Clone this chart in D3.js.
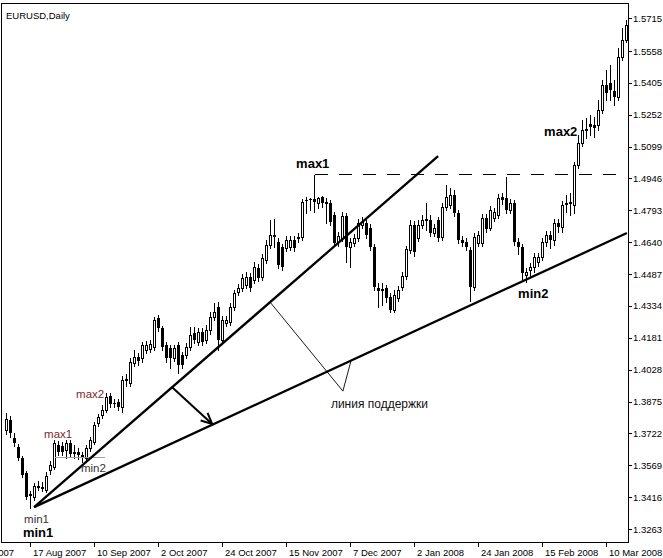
<!DOCTYPE html>
<html><head><meta charset="utf-8">
<script src="https://cdn.jsdelivr.net/npm/d3@7"></script>
<style>
html,body{margin:0;padding:0;background:#fff;}
svg{display:block;}
text{font-family:"Liberation Sans",Arial,sans-serif;}
</style></head><body>
<svg id="c" width="663" height="558"></svg>
<script>
// EURUSD daily bars (one per trading day)
const openP = [
1.3738,1.3786,1.3700,1.3656,1.3604,1.3532,1.3431,1.3416,1.3464,1.3464,
1.3450,1.3546,1.3560,1.3666,1.3661,1.3642,1.3676,1.3632,1.3632,1.3618,
1.3604,1.3652,1.3680,1.3772,1.3810,1.3834,1.3901,1.3868,1.3872,1.3848,
1.3978,1.3964,1.4060,1.4088,1.4084,1.4122,1.4127,1.4136,1.4276,1.4228,
1.4146,1.4132,1.4084,1.4146,1.4098,1.4098,1.4136,1.4204,1.4160,1.4208,
1.4170,1.4218,1.4280,1.4328,1.4170,1.4252,1.4256,1.4328,1.4400,1.4420,
1.4434,1.4472,1.4458,1.4516,1.4472,1.4554,1.4626,1.4669,1.4640,1.4616,
1.4612,1.4616,1.4650,1.4660,1.4664,1.4842,1.4847,1.4847,1.4828,1.4856,
1.4832,1.4828,1.4770,1.4640,1.4660,1.4765,1.4616,1.4636,1.4660,1.4722,
1.4732,1.4708,1.4616,1.4420,1.4410,1.4420,1.4376,1.4314,1.4372,1.4424,
1.4477,1.4602,1.4722,1.4660,1.4722,1.4746,1.4746,1.4684,1.4746,1.4664,
1.4808,1.4818,1.4866,1.4780,1.4650,1.4640,1.4602,1.4424,1.4636,1.4636,
1.4756,1.4708,1.4756,1.4770,1.4856,1.4852,1.4794,1.4828,1.4640,1.4616,
1.4482,1.4506,1.4520,1.4544,1.4568,1.4640,1.4674,1.4650,1.4732,1.4712,
1.4823,1.4828,1.4818,1.5010,1.5116,1.5178,1.5206,1.5202,1.5202,1.5274,
1.5394,1.5404,1.5365,1.5336,1.5528,1.5610];
const highP = [
1.3820,1.3805,1.3724,1.3671,1.3613,1.3541,1.3445,1.3484,1.3493,1.3488,
1.3536,1.3589,1.3690,1.3685,1.3680,1.3690,1.3690,1.3666,1.3652,1.3632,
1.3666,1.3704,1.3776,1.3815,1.3858,1.3916,1.3916,1.3887,1.3887,1.3997,
1.4007,1.4084,1.4122,1.4108,1.4160,1.4165,1.4170,1.4280,1.4290,1.4237,
1.4160,1.4146,1.4146,1.4160,1.4112,1.4156,1.4232,1.4232,1.4228,1.4228,
1.4242,1.4304,1.4348,1.4352,1.4285,1.4285,1.4348,1.4410,1.4439,1.4487,
1.4496,1.4492,1.4544,1.4535,1.4583,1.4650,1.4746,1.4751,1.4660,1.4631,
1.4669,1.4669,1.4669,1.4684,1.4846,1.4856,1.4852,1.4870,1.4856,1.4861,
1.4852,1.4842,1.4784,1.4688,1.4784,1.4780,1.4660,1.4679,1.4751,1.4760,
1.4751,1.4727,1.4631,1.4444,1.4444,1.4434,1.4396,1.4410,1.4429,1.4496,
1.4621,1.4746,1.4741,1.4746,1.4770,1.4828,1.4770,1.4727,1.4760,1.4828,
1.4914,1.4900,1.4890,1.4794,1.4669,1.4660,1.4616,1.4684,1.4693,1.4775,
1.4775,1.4813,1.4804,1.4871,1.4876,1.4953,1.4847,1.4842,1.4660,1.4631,
1.4516,1.4540,1.4588,1.4588,1.4660,1.4693,1.4693,1.4751,1.4751,1.4837,
1.4866,1.4876,1.5024,1.5154,1.5226,1.5236,1.5250,1.5240,1.5322,1.5418,
1.5466,1.5490,1.5418,1.5571,1.5667,1.5706];
const lowP = [
1.3719,1.3704,1.3661,1.3594,1.3512,1.3407,1.3364,1.3402,1.3450,1.3445,
1.3440,1.3527,1.3551,1.3618,1.3618,1.3604,1.3608,1.3604,1.3599,1.3584,
1.3589,1.3637,1.3671,1.3757,1.3796,1.3824,1.3848,1.3848,1.3834,1.3824,
1.3949,1.3949,1.4045,1.4050,1.4064,1.4108,1.4112,1.4122,1.4213,1.4122,
1.4064,1.4036,1.4069,1.4012,1.4036,1.4084,1.4122,1.4156,1.4146,1.4146,
1.4156,1.4199,1.4266,1.4122,1.4156,1.4237,1.4242,1.4314,1.4386,1.4405,
1.4420,1.4405,1.4444,1.4453,1.4458,1.4540,1.4612,1.4616,1.4516,1.4506,
1.4597,1.4602,1.4597,1.4640,1.4650,1.4780,1.4794,1.4784,1.4804,1.4808,
1.4732,1.4722,1.4621,1.4621,1.4645,1.4544,1.4520,1.4621,1.4645,1.4708,
1.4660,1.4602,1.4410,1.4328,1.4338,1.4352,1.4304,1.4304,1.4357,1.4410,
1.4463,1.4588,1.4573,1.4645,1.4708,1.4698,1.4669,1.4669,1.4645,1.4650,
1.4794,1.4804,1.4765,1.4636,1.4621,1.4602,1.4357,1.4410,1.4621,1.4621,
1.4688,1.4698,1.4741,1.4756,1.4823,1.4780,1.4780,1.4626,1.4583,1.4463,
1.4448,1.4477,1.4496,1.4525,1.4554,1.4621,1.4612,1.4626,1.4688,1.4688,
1.4784,1.4770,1.4780,1.4996,1.5101,1.5140,1.5154,1.5144,1.5178,1.5260,
1.5322,1.5322,1.5298,1.5322,1.5514,1.5600];
const closeP = [
1.3791,1.3724,1.3676,1.3604,1.3522,1.3416,1.3421,1.3469,1.3469,1.3466,
1.3517,1.3570,1.3676,1.3632,1.3632,1.3676,1.3623,1.3623,1.3618,1.3604,
1.3652,1.3690,1.3762,1.3800,1.3834,1.3896,1.3863,1.3866,1.3848,1.3978,
1.3983,1.4064,1.4088,1.4069,1.4146,1.4146,1.4151,1.4266,1.4228,1.4136,
1.4084,1.4084,1.4132,1.4050,1.4050,1.4136,1.4194,1.4170,1.4208,1.4160,
1.4218,1.4280,1.4304,1.4170,1.4266,1.4266,1.4328,1.4396,1.4420,1.4468,
1.4472,1.4420,1.4520,1.4468,1.4564,1.4626,1.4674,1.4674,1.4530,1.4520,
1.4650,1.4650,1.4612,1.4664,1.4832,1.4840,1.4845,1.4832,1.4852,1.4828,
1.4823,1.4736,1.4636,1.4669,1.4765,1.4616,1.4640,1.4660,1.4732,1.4736,
1.4674,1.4616,1.4424,1.4405,1.4415,1.4372,1.4314,1.4386,1.4410,1.4477,
1.4607,1.4722,1.4592,1.4722,1.4746,1.4751,1.4684,1.4708,1.4660,1.4808,
1.4856,1.4866,1.4780,1.4650,1.4636,1.4616,1.4424,1.4664,1.4674,1.4756,
1.4703,1.4794,1.4784,1.4852,1.4842,1.4794,1.4828,1.4640,1.4616,1.4492,
1.4496,1.4520,1.4568,1.4568,1.4640,1.4674,1.4650,1.4732,1.4712,1.4818,
1.4828,1.4832,1.5010,1.5116,1.5178,1.5182,1.5192,1.5187,1.5274,1.5394,
1.5356,1.5370,1.5336,1.5528,1.5610,1.5682];

const priceTicks = [1.5715,1.5558,1.5405,1.5252,1.5099,1.4946,1.4793,1.4640,
  1.4487,1.4334,1.4181,1.4028,1.3875,1.3722,1.3569,1.3416,1.3263];
const dateTickIdx = [-11,6,22,38,54,70,86,102,118,134,150];
const dateTickLabels = ["26 Jul 2007","17 Aug 2007","10 Sep 2007","2 Oct 2007","24 Oct 2007",
  "15 Nov 2007","7 Dec 2007","2 Jan 2008","24 Jan 2008","15 Feb 2008","10 Mar 2008"];

// annotations in (bar index, price)
const resistanceLevel = 1.4967;
const resistanceFrom = 77, resistanceTo = 153.9;
const supportLine = [[6.9,1.3368],[155.1,1.4684]];
const steepLine = [[6.9,1.3368],[107.9,1.5053]];
const shiftArrow = [[41.4,1.3944],[51.4,1.3767]];
const callout = [[65.9,1.4352],[84.1,1.3925],[86.1,1.4069]];
const greyLevel = {from:12.1, to:24.6, price:1.3608};
const smallLabels = [
  {t:"min1", i:4.4, p:1.3292, c:"#333"},
  {t:"max1", i:9.4, p:1.3700, c:"#7a2a2a"},
  {t:"min2", i:18.6, p:1.3536, c:"#333"},
  {t:"max2", i:17.4, p:1.3891, c:"#7a2a2a"}];
const boldLabels = [
  {t:"min1", i:4.1, p:1.3225},
  {t:"max1", i:72.4, p:1.4996},
  {t:"max2", i:134.4, p:1.5149},
  {t:"min2", i:127.9, p:1.4372}];
const noteLabel = {t:"линия поддержки", i:81.1, p:1.3843};

const svg = d3.select("#c");
const x = d3.scaleLinear().domain([0,155]).range([6.5,626.5]);
const y = d3.scaleLinear().domain([1.3263,1.5558]).range([529,51]);

// frame
svg.append("rect").attr("x",1.5).attr("y",3.5).attr("width",627).attr("height",539)
  .attr("fill","none").attr("stroke","#000").attr("shape-rendering","crispEdges");

// axes
const yAxis = d3.axisRight(y).tickValues(priceTicks).tickSize(4).tickPadding(1)
  .tickFormat(d3.format(".4f"));
const gy = svg.append("g").attr("transform","translate(628,0)").call(yAxis);
gy.select(".domain").remove();
gy.selectAll("text").attr("font-size",9.5).attr("font-family","Liberation Sans, Arial").attr("fill","#000");
gy.selectAll("line").attr("stroke","#000").attr("shape-rendering","crispEdges");

const xAxis = d3.axisBottom(x).tickValues(dateTickIdx).tickSize(4).tickPadding(3).offset(0)
  .tickFormat((d,k)=>dateTickLabels[k]);
const gx = svg.append("g").attr("transform","translate(0,542.5)").call(xAxis);
gx.select(".domain").remove();
gx.selectAll("text").attr("text-anchor","start").attr("x",2.5).attr("font-size",9.5)
  .attr("font-family","Liberation Sans, Arial").attr("fill","#000");
gx.selectAll("line").attr("stroke","#000").attr("shape-rendering","crispEdges");

svg.append("text").attr("x",6).attr("y",19).attr("font-size",9.5).text("EURUSD,Daily");

// candles
const bars = d3.range(openP.length).map(i=>({i,o:openP[i],h:highP[i],l:lowP[i],c:closeP[i]}));
const gc = svg.append("g").attr("shape-rendering","crispEdges");
bars.forEach(b=>{
  const cx = x(b.i);
  const yH = Math.round(y(b.h)), yL = Math.round(y(b.l));
  const yO = Math.round(y(b.o)), yC = Math.round(y(b.c));
  gc.append("line").attr("x1",cx).attr("x2",cx).attr("y1",yH).attr("y2",yL+1)
    .attr("stroke","#000").attr("stroke-width",1);
  if (b.c >= b.o) {
    gc.append("rect").attr("x",cx-1).attr("y",yC+0.5).attr("width",2)
      .attr("height",Math.max(yO-yC,1)).attr("fill","#fff").attr("stroke","#000").attr("stroke-width",1);
  } else {
    gc.append("rect").attr("x",cx-1.5).attr("y",yO).attr("width",3)
      .attr("height",Math.max(yC-yO,1)).attr("fill","#000");
  }
});

const line = d3.line().x(d=>x(d[0])).y(d=>y(d[1]));

// resistance dashed level and max1 bracket
svg.append("line").attr("x1",x(resistanceFrom)).attr("x2",x(resistanceTo))
  .attr("y1",Math.round(y(resistanceLevel))+0.5).attr("y2",Math.round(y(resistanceLevel))+0.5)
  .attr("stroke","#000").attr("stroke-dasharray","13,11").attr("shape-rendering","crispEdges");
svg.append("line").attr("x1",x(resistanceFrom)).attr("x2",x(resistanceFrom))
  .attr("y1",Math.round(y(resistanceLevel))+0.5).attr("y2",Math.round(y(highP[resistanceFrom])))
  .attr("stroke","#000").attr("shape-rendering","crispEdges");

// grey small level
svg.append("line").attr("x1",x(greyLevel.from)).attr("x2",x(greyLevel.to))
  .attr("y1",Math.round(y(greyLevel.price))+0.5).attr("y2",Math.round(y(greyLevel.price))+0.5)
  .attr("stroke","#a0a0a0").attr("shape-rendering","crispEdges");

// trend lines
svg.append("path").attr("d",line(supportLine)).attr("fill","none").attr("stroke","#000").attr("stroke-width",2.3);
svg.append("path").attr("d",line(steepLine)).attr("fill","none").attr("stroke","#000").attr("stroke-width",2.3);

// callout lines
svg.append("path").attr("d",line(callout)).attr("fill","none").attr("stroke","#000").attr("stroke-width",0.9);

// arrow
svg.append("path").attr("d",line(shiftArrow)).attr("fill","none").attr("stroke","#000").attr("stroke-width",2);
(function(){
  const [a,b] = shiftArrow;
  const x1=x(a[0]),y1=y(a[1]),x2=x(b[0]),y2=y(b[1]);
  const ang = Math.atan2(y2-y1,x2-x1), L=12, sp=0.44;
  const p1=[x2-L*Math.cos(ang-sp), y2-L*Math.sin(ang-sp)];
  const p2=[x2-L*Math.cos(ang+sp), y2-L*Math.sin(ang+sp)];
  svg.append("path").attr("d",`M${p1}L${x2},${y2}L${p2}`).attr("fill","none")
    .attr("stroke","#000").attr("stroke-width",2);
})();

// labels
smallLabels.forEach(s=>svg.append("text").attr("x",x(s.i)).attr("y",y(s.p))
  .attr("font-size",11.5).attr("fill",s.c).text(s.t));
boldLabels.forEach(s=>svg.append("text").attr("x",x(s.i)).attr("y",y(s.p))
  .attr("font-size",13).attr("font-weight","bold").attr("fill","#000").text(s.t));
svg.append("text").attr("x",x(noteLabel.i)).attr("y",y(noteLabel.p))
  .attr("font-size",12).attr("fill","#111").text(noteLabel.t);
</script>
</body></html>
